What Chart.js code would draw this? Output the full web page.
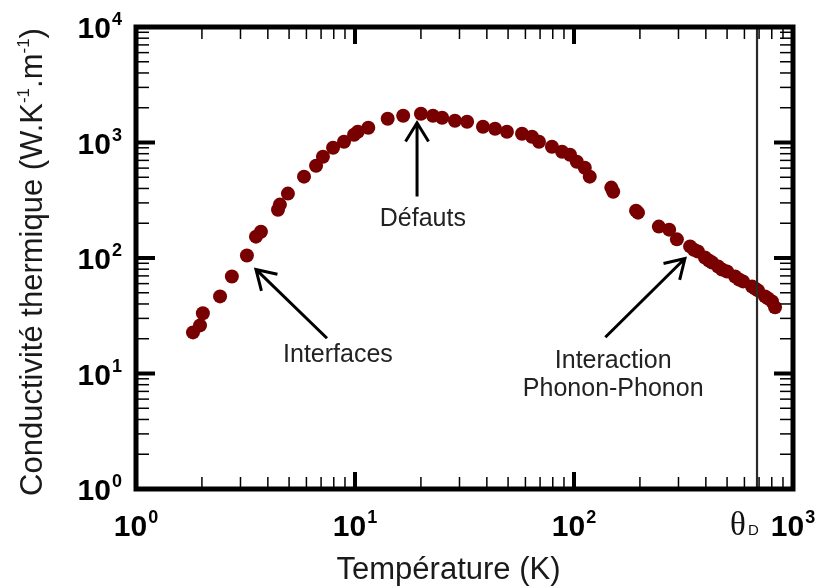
<!DOCTYPE html>
<html>
<head>
<meta charset="utf-8">
<script src="https://cdn.jsdelivr.net/npm/chart.js@4"></script>
<style>
  html, body { margin: 0; padding: 0; background: #fff; }
  canvas { display: block; }
</style>
</head>
<body>
<canvas id="chart" width="817" height="586"></canvas>
<script>
// temperature (K) and thermal conductivity (W/K/m)
const tempK = [1.82, 1.96, 2.02, 2.42, 2.74, 3.21, 3.53, 3.72, 4.45, 4.54,
  4.94, 5.85, 6.64, 7.14, 7.94, 8.91, 9.90, 10.3, 11.5, 14.1,
  16.6, 20.0, 22.7, 25.0, 28.6, 32.5, 38.4, 43.6, 49.4, 57.9,
  64.3, 69.2, 79.3, 88.2, 95.9, 103, 112, 118, 148, 151,
  192, 196, 244, 272, 295, 339, 353, 368, 396, 413,
  427, 455, 474, 500, 544, 567, 591, 650, 671, 692,
  745, 769, 802, 828];
const kappa = [22.7, 26.1, 33.2, 46.5, 69.2, 105, 153, 169, 262, 290,
  361, 506, 630, 753, 901, 1015, 1167, 1238, 1341, 1604,
  1702, 1772, 1702, 1636, 1541, 1511, 1368, 1315, 1238, 1190,
  1121, 1015, 919, 832, 784, 682, 605, 506, 407, 375,
  257, 247, 187, 176, 145, 126, 118, 114, 101, 95.1,
  91.4, 84.5, 79.6, 76.4, 69.2, 65.2, 62.7, 56.7, 54.5, 52.4,
  46.5, 44.7, 42.1, 37.4];

const xDecades = [1, 10, 100, 1000];
const yDecades = [1, 10, 100, 1000, 10000];
const thetaD = 685;

const notes = [
  { lines: ["Défauts"], T: 20.4, k: 215 },
  { lines: ["Interfaces"], T: 8.36, k: 14.4 },
  { lines: ["Interaction", "Phonon-Phonon"], T: 151, k: 12.8 },
];
const arrows = [
  { from: [19.2, 340], to: [19.2, 1481] },
  { from: [7.45, 20.2], to: [3.53, 79.6] },
  { from: [139, 20.6], to: [321, 99] },
];

const SANS = '"Liberation Sans", Arial, sans-serif';

function minorValues(decades) {
  const out = [];
  for (let i = 0; i < decades.length - 1; i++) {
    for (let m = 2; m <= 9; m++) out.push(decades[i] * m);
  }
  return out;
}

function powerLabel(ctx, exp, x, y, align) {
  ctx.font = "bold 30px " + SANS;
  const wBase = ctx.measureText("10").width;
  ctx.font = "bold 18px " + SANS;
  const wSup = ctx.measureText(String(exp)).width;
  const total = wBase + wSup + 1;
  let left = align === "right" ? x - total : x - total / 2;
  ctx.fillStyle = "#000";
  ctx.textAlign = "left";
  ctx.textBaseline = "alphabetic";
  ctx.font = "bold 30px " + SANS;
  ctx.fillText("10", left, y + 11);
  ctx.font = "bold 18px " + SANS;
  ctx.fillText(String(exp), left + wBase + 1, y - 2);
}

const framePlugin = {
  id: "frame",
  afterDatasetsDraw(chart) {
    const { ctx, chartArea: a, scales: { x, y } } = chart;
    ctx.save();

    // theta_D line
    const xd = x.getPixelForValue(thetaD);
    ctx.strokeStyle = "#2a2a2a";
    ctx.lineWidth = 2.2;
    ctx.beginPath();
    ctx.moveTo(xd, a.top);
    ctx.lineTo(xd, a.bottom);
    ctx.stroke();

    // ticks, inward on all four sides
    ctx.strokeStyle = "#000";
    const tick = (px, py, dx, dy, w) => {
      ctx.lineWidth = w;
      ctx.beginPath();
      ctx.moveTo(px, py);
      ctx.lineTo(px + dx, py + dy);
      ctx.stroke();
    };
    minorValues(xDecades).forEach((v) => {
      const px = x.getPixelForValue(v);
      tick(px, a.bottom, 0, -12, 1.5);
      tick(px, a.top, 0, 12, 1.5);
    });
    xDecades.forEach((v) => {
      const px = x.getPixelForValue(v);
      tick(px, a.bottom, 0, -17, 4);
      tick(px, a.top, 0, 17, 4);
    });
    minorValues(yDecades).forEach((v) => {
      const py = y.getPixelForValue(v);
      tick(a.left, py, 13, 0, 1.5);
      tick(a.right, py, -13, 0, 1.5);
    });
    yDecades.forEach((v) => {
      const py = y.getPixelForValue(v);
      tick(a.left, py, 19, 0, 4);
      tick(a.right, py, -19, 0, 4);
    });

    // frame
    ctx.lineWidth = 5;
    ctx.lineJoin = "miter";
    ctx.strokeRect(a.left, a.top, a.right - a.left, a.bottom - a.top);

    // tick labels
    yDecades.forEach((v, i) => powerLabel(ctx, i, 122, y.getPixelForValue(v), "right"));
    xDecades.forEach((v, i) => powerLabel(ctx, i, x.getPixelForValue(v), a.bottom + 36, "center"));

    // theta_D label
    ctx.fillStyle = "#111";
    ctx.textAlign = "left";
    ctx.font = '33px "Liberation Serif", "Times New Roman", serif';
    ctx.fillText("θ", xd - 27, a.bottom + 46);
    ctx.font = "15px " + SANS;
    ctx.fillText("D", xd - 9, a.bottom + 46);

    // axis titles
    ctx.fillStyle = "#1a1a1a";
    ctx.font = "31px " + SANS;
    ctx.textAlign = "center";
    ctx.fillText("Température (K)", (a.left + a.right) / 2 - 16, 579);

    const parts = [
      ["Conductivité thermique (W.K", 0],
      ["-1", 1],
      [".m", 0],
      ["-1", 1],
      [")", 0],
    ];
    const fontOf = (s) => (s ? "17px " : "31px ") + SANS;
    let total = 0;
    parts.forEach(([t, s]) => { ctx.font = fontOf(s); total += ctx.measureText(t).width; });
    ctx.translate(42, 262);
    ctx.rotate(-Math.PI / 2);
    ctx.textAlign = "left";
    let cx = -total / 2;
    parts.forEach(([t, s]) => {
      ctx.font = fontOf(s);
      ctx.fillText(t, cx, s ? -13 : 0);
      cx += ctx.measureText(t).width;
    });
    ctx.setTransform(1, 0, 0, 1, 0, 0);

    // annotations
    ctx.font = "25px " + SANS;
    ctx.fillStyle = "#222";
    ctx.textAlign = "center";
    ctx.textBaseline = "middle";
    notes.forEach((n) => {
      const px = x.getPixelForValue(n.T);
      const py = y.getPixelForValue(n.k);
      n.lines.forEach((line, i) => ctx.fillText(line, px, py + i * 28));
    });

    ctx.strokeStyle = "#000";
    ctx.lineWidth = 3;
    ctx.lineCap = "butt";
    arrows.forEach((ar) => {
      const x0 = x.getPixelForValue(ar.from[0]);
      const y0 = y.getPixelForValue(ar.from[1]);
      const x1 = x.getPixelForValue(ar.to[0]);
      const y1 = y.getPixelForValue(ar.to[1]);
      const ang = Math.atan2(y1 - y0, x1 - x0);
      ctx.beginPath();
      ctx.moveTo(x0, y0);
      ctx.lineTo(x1, y1);
      ctx.moveTo(x1 - 22 * Math.cos(ang - 0.55), y1 - 22 * Math.sin(ang - 0.55));
      ctx.lineTo(x1, y1);
      ctx.lineTo(x1 - 22 * Math.cos(ang + 0.55), y1 - 22 * Math.sin(ang + 0.55));
      ctx.stroke();
    });

    ctx.restore();
  },
};

new Chart(document.getElementById("chart"), {
  type: "scatter",
  data: {
    datasets: [
      {
        data: tempK.map((t, i) => ({ x: t, y: kappa[i] })),
        backgroundColor: "#780000",
        borderColor: "#780000",
        borderWidth: 0,
        pointRadius: 7,
      },
    ],
  },
  options: {
    responsive: false,
    animation: false,
    devicePixelRatio: 1,
    layout: { padding: { left: 136, right: 24, top: 27, bottom: 97 } },
    plugins: { legend: { display: false }, tooltip: { enabled: false } },
    scales: {
      x: { type: "logarithmic", min: 1, max: 1000, display: false },
      y: { type: "logarithmic", min: 1, max: 10000, display: false },
    },
  },
  plugins: [framePlugin],
});
</script>
</body>
</html>
